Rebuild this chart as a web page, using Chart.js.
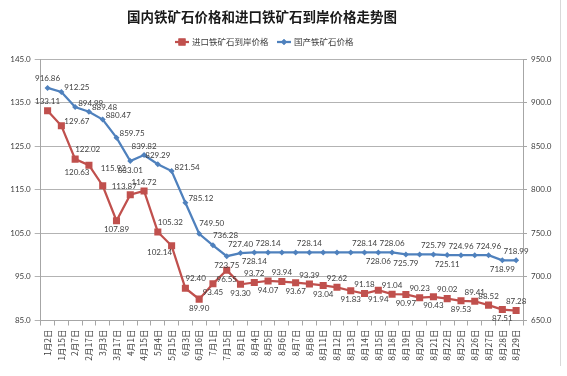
<!DOCTYPE html>
<html><head><meta charset="utf-8">
<script src="https://cdn.jsdelivr.net/npm/chart.js@4.4.1/dist/chart.umd.min.js"></script>
<style>
html,body{margin:0;padding:0;background:#fff;}
#wrap{position:relative;width:567px;height:376px;}
#frame{position:absolute;left:560px;top:0;width:1px;height:366px;background:#d9d9d9;}
</style></head><body>
<div id="wrap"><canvas id="c" width="567" height="376"></canvas><div id="frame"></div></div>
<script>
const titleText = '国内铁矿石价格和进口铁矿石到岸价格走势图';
const importName = '进口铁矿石到岸价格';
const domesticName = '国产铁矿石价格';
const categories = ['1月2日','1月15日','2月7日','2月17日','3月3日','3月17日','4月1日','4月15日','5月4日','5月15日','6月3日','6月16日','7月1日','7月15日','8月1日','8月4日','8月5日','8月6日','8月7日','8月8日','8月11日','8月12日','8月13日','8月14日','8月15日','8月18日','8月19日','8月20日','8月21日','8月22日','8月25日','8月26日','8月27日','8月28日','8月29日'];
const importPrice = [133.11,129.67,122.02,120.63,115.92,107.89,113.87,114.72,105.32,102.14,92.40,89.90,93.45,96.55,93.30,93.72,94.07,93.94,93.67,93.39,93.04,92.62,91.83,91.18,91.94,91.04,90.97,90.23,90.43,90.02,89.53,89.41,88.52,87.51,87.28];
const domesticPrice = [916.86,912.25,894.99,889.48,880.47,859.75,833.01,839.82,829.29,821.54,785.12,749.50,736.28,723.75,727.40,728.14,728.14,728.14,728.14,728.14,728.14,728.14,728.14,728.14,728.06,728.06,725.79,725.79,725.79,725.11,724.96,724.96,724.96,718.99,718.99];
const leftAxis = {min:85, max:145, step:10};
const rightAxis = {min:650, max:950, step:50};
// label placement codes (which side of the point a value label sits; '' = no label)
const importLabelPos = ['a','r','ar','bl','hr','b','al','a','ar','bl','ar','b','b','b','b','a','b','a','b','a','b','a','b','a','b','a','b','a','b','a','b','a','a','b','a'];
const domesticLabelPos = ['a','r','r','r','r','r','b','a','a','r','r','ar','ar','b','a','b','a','','','a','','','','a','b','a','b','','a','b','a','','a','b','a'];

const RED = '#C0504D', BLUE = '#4F81BD';
const NUM_FONT = 'Lato, "Noto Sans CJK SC", sans-serif';
const CJK_FONT = '"Noto Sans CJK SC", sans-serif';
const OFFS = {
  a:{align:'center',dx:0,dy:-9}, b:{align:'center',dx:0,dy:9},
  r:{align:'left',dx:3,dy:-4}, ar:{align:'left',dx:0,dy:-10},
  hr:{align:'left',dx:-2,dy:-17}, bl:{align:'center',dx:-12,dy:7},
  al:{align:'center',dx:-6,dy:-8}
};

const decor = {
  id:'decor',
  afterDatasetsDraw(chart){
    const ctx = chart.ctx;
    ctx.save();
    ctx.font = '8px ' + NUM_FONT;
    ctx.fillStyle = '#404040';
    ctx.textBaseline = 'middle';
    const sets = [[0, importPrice, importLabelPos], [1, domesticPrice, domesticLabelPos]];
    sets.forEach(([di, vals, pos]) => {
      const meta = chart.getDatasetMeta(di);
      meta.data.forEach((pt, i) => {
        const code = pos[i]; if (!code) return;
        const o = OFFS[code];
        ctx.textAlign = o.align;
        ctx.fillText(vals[i].toFixed(2), pt.x + o.dx, pt.y + o.dy);
      });
    });
    // title
    ctx.font = 'bold 13.5px ' + CJK_FONT;
    ctx.fillStyle = '#1a1a1a';
    ctx.textAlign = 'center';
    ctx.fillText(titleText, 262, 17);
    // legend
    ctx.font = '8.5px ' + CJK_FONT;
    ctx.textAlign = 'left';
    const ly = 42;
    const items = [[175, RED, 'rect', 5, importName], [277, BLUE, 'rectRot', 3, domesticName]];
    items.forEach(([x, col, style, r, name]) => {
      ctx.strokeStyle = col; ctx.lineWidth = 2.25;
      ctx.beginPath(); ctx.moveTo(x, ly); ctx.lineTo(x + 14, ly); ctx.stroke();
      ctx.fillStyle = col;
      Chart.helpers.drawPoint(ctx, {pointStyle: style, radius: r, borderWidth: 0}, x + 7, ly);
      ctx.fill();
      ctx.fillStyle = '#404040';
      ctx.fillText(name, x + 17, ly);
    });
    ctx.restore();
  }
};

new Chart(document.getElementById('c'), {
  type:'line',
  data:{
    labels: categories,
    datasets:[
      {label: importName, data: importPrice, yAxisID:'yL', borderColor: RED, backgroundColor: RED,
       borderWidth:2.25, pointStyle:'rect', pointRadius:5, pointBorderWidth:0, tension:0},
      {label: domesticName, data: domesticPrice, yAxisID:'yR', borderColor: BLUE, backgroundColor: BLUE,
       borderWidth:2.25, pointStyle:'rectRot', pointRadius:3, pointBorderWidth:0, tension:0}
    ]
  },
  options:{
    responsive:false, animation:false,
    layout:{padding:{top:59, left:0, right:0, bottom:0}},
    plugins:{legend:{display:false}, title:{display:false}, tooltip:{enabled:false}},
    scales:{
      x:{
        offset:true,
        grid:{offset:true, drawOnChartArea:false, tickLength:5, color:'#a6a6a6'},
        border:{color:'#a6a6a6'},
        ticks:{minRotation:90, maxRotation:90, autoSkip:false, padding:4, color:'#404040', font:{family:CJK_FONT, size:8.5}},
        afterFit(s){ s.height = 55.5; }
      },
      yL:{
        position:'left', min:leftAxis.min, max:leftAxis.max,
        grid:{color:'#b3b3b3', tickLength:6},
        border:{color:'#a6a6a6'},
        ticks:{stepSize:leftAxis.step, padding:4, color:'#404040', font:{family:NUM_FONT, size:8}, callback:v=>Number(v).toFixed(1)},
        afterFit(s){ s.width = 40.7; }
      },
      yR:{
        position:'right', min:rightAxis.min, max:rightAxis.max,
        grid:{drawOnChartArea:false, color:'#a6a6a6', tickLength:4},
        border:{color:'#a6a6a6'},
        ticks:{stepSize:rightAxis.step, padding:4, color:'#404040', font:{family:NUM_FONT, size:8}, callback:v=>Number(v).toFixed(1)},
        afterFit(s){ s.width = 44; }
      }
    }
  },
  plugins:[decor]
});
</script>
</body></html>
